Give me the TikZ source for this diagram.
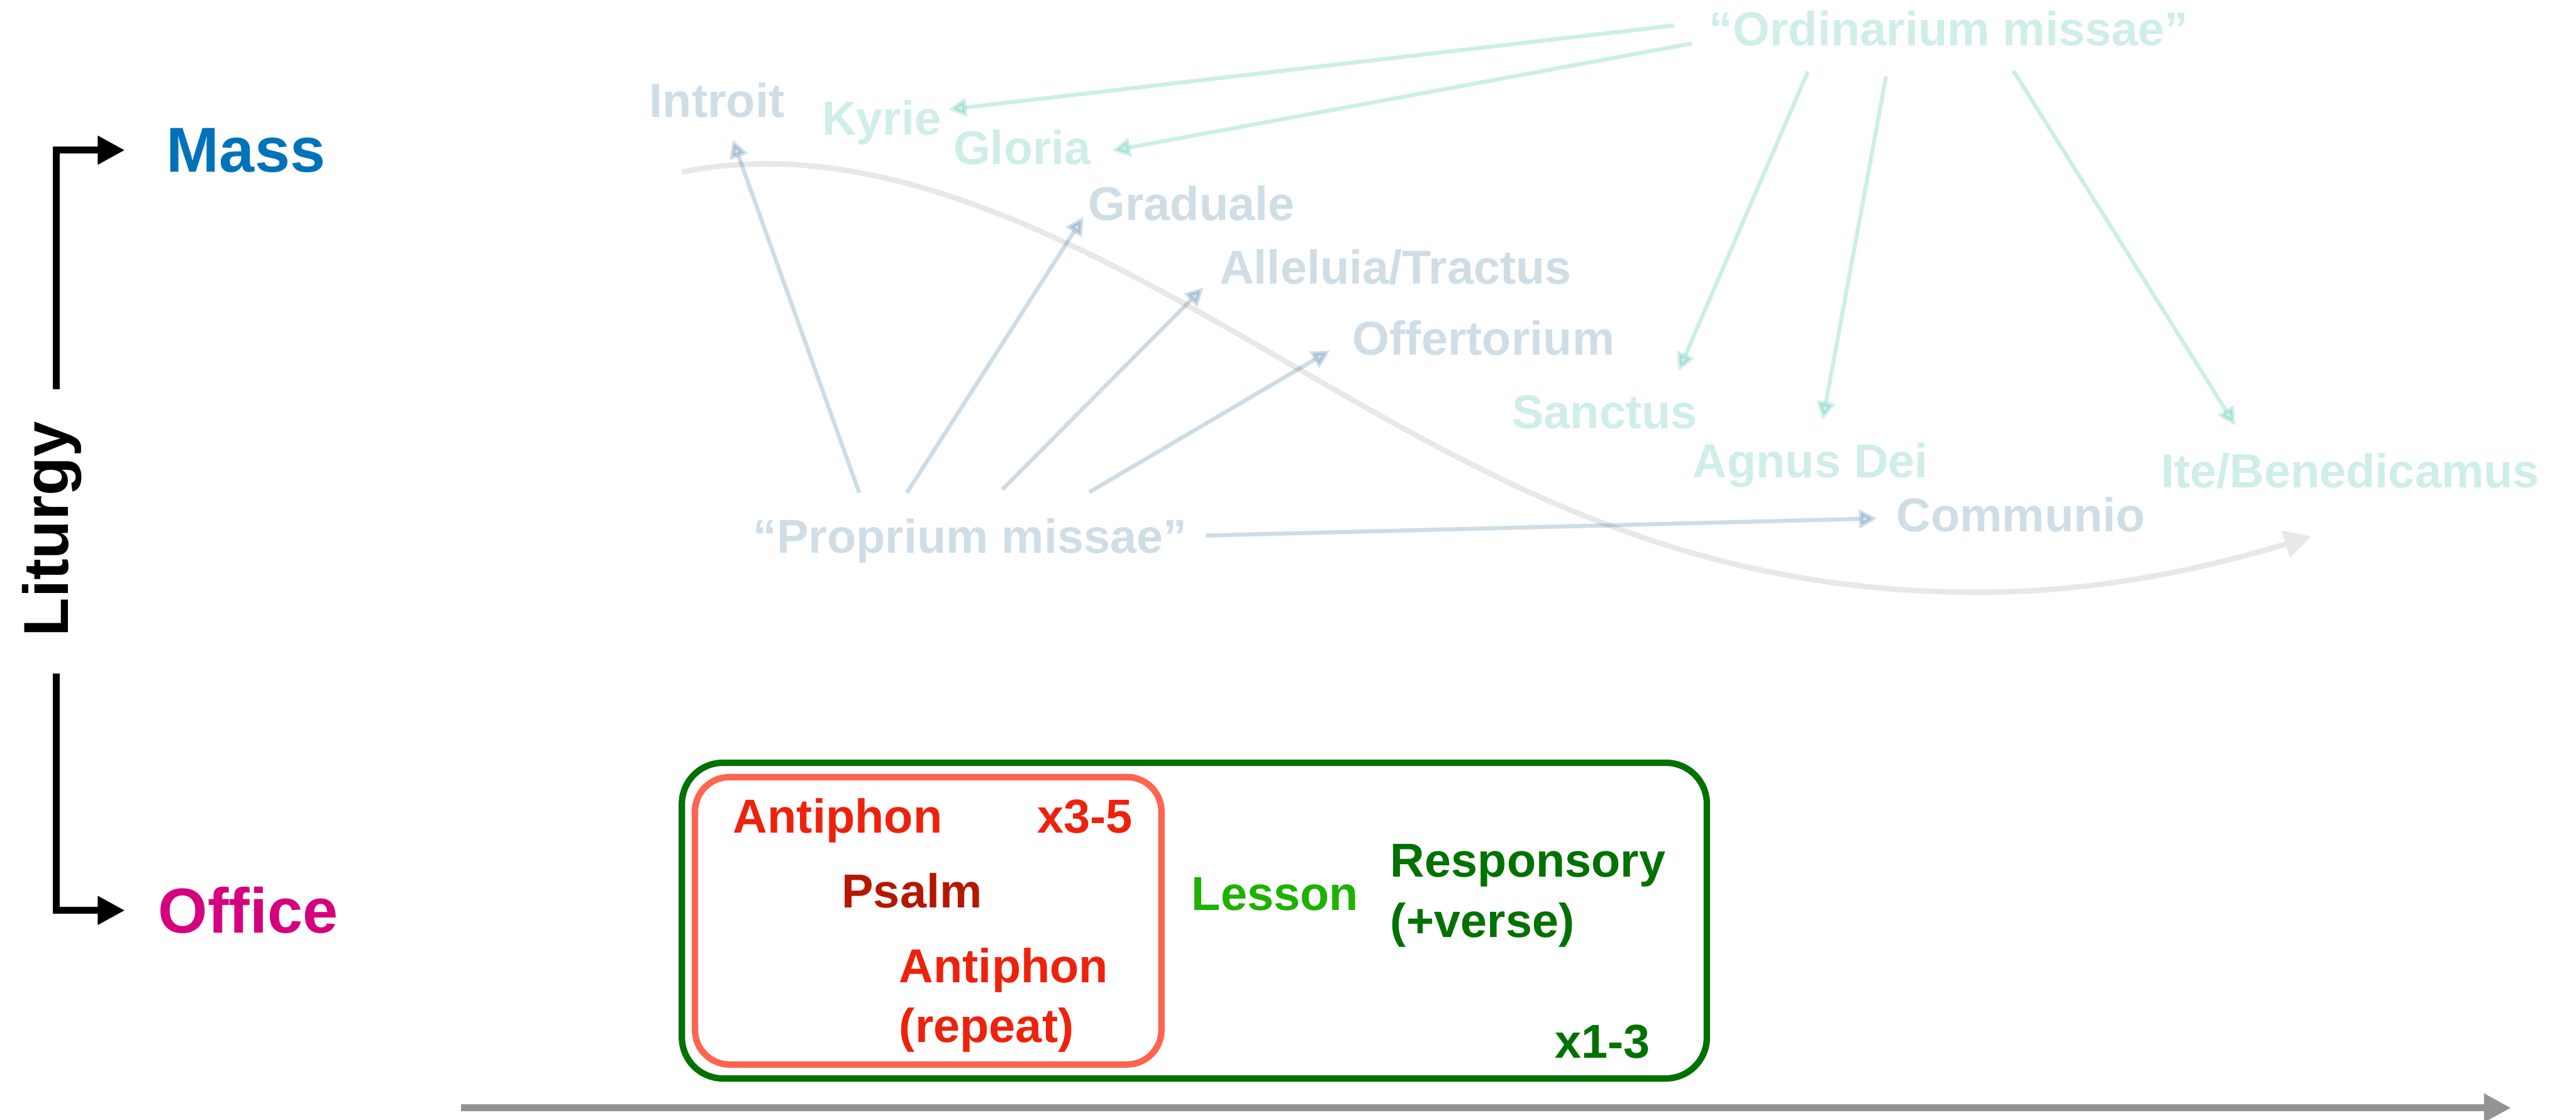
\documentclass[tikz,border=0pt]{standalone}
\usepackage{fontspec}
\setmainfont{Liberation Sans}
\usetikzlibrary{arrows.meta}

\definecolor{massBlue}{HTML}{0072BA}
\definecolor{officeMagenta}{HTML}{D4007E}
\definecolor{propText}{HTML}{CFDDE6}
\definecolor{ordText}{HTML}{CFEEE9}
\definecolor{propLine}{HTML}{0F5582}
\definecolor{ordLine}{HTML}{0FAA91}
\definecolor{flowGrey}{HTML}{939393}
\definecolor{curveGrey}{HTML}{E8E8E8}
\definecolor{antRed}{HTML}{EE220C}
\definecolor{psalmRed}{HTML}{B51700}
\definecolor{boxRed}{HTML}{FF644E}
\definecolor{lessonGreen}{HTML}{1DB100}
\definecolor{darkGreen}{HTML}{017100}

\begin{document}
\begin{tikzpicture}[x=0.02cm, y=-0.02cm,
  lbl/.style={inner sep=0pt, anchor=base west, font=\fontsize{16.5}{20.8}\selectfont\bfseries},
  bigLbl/.style={inner sep=0pt, anchor=base west, font=\fontsize{22}{26}\selectfont\bfseries},
  prop/.style={lbl, text=propText},
  ord/.style={lbl, text=ordText},
  propArrow/.style={draw=propLine, fill=propLine, opacity=0.2, line width=0.05cm,
    -{Triangle[length=0.22cm, width=0.22cm]}},
  ordArrow/.style={draw=ordLine, fill=ordLine, opacity=0.2, line width=0.05cm,
    -{Triangle[length=0.22cm, width=0.22cm]}},
  bracketArrow/.style={line width=0.082cm, -{Triangle[length=0.33cm, width=0.33cm]}},
  timeArrow/.style={draw=flowGrey, line width=0.083cm, -{Triangle[length=0.33cm, width=0.33cm]}},
  curveArrow/.style={draw=curveGrey, line width=0.066cm, -{Triangle[length=0.33cm, width=0.33cm]}},
  roundBox/.style={draw, inner sep=0pt, line width=0.078cm},
]
\useasboundingbox (0,0) rectangle (1568,681.6);

% sweeping course of the Mass (drawn beneath everything else)
\coordinate (cStart) at (415,104.7);
\coordinate (cEnd) at (1407,326.5);
\draw[curveArrow] (cStart)
  .. controls (535,80.7) and (657,147.2) .. (777,216.8)
  .. controls (907,292.2) and (1024.2,360.5) .. (1204.2,360.5)
  .. controls (1274.2,360.5) and (1337,347.5) .. (cEnd);

% time axis
\coordinate (tStart) at (280.6,674.4);
\coordinate (tEnd) at (1528.4,674.4);
\draw[timeArrow] (tStart) -- (tEnd);

% left side: Liturgy splits into Mass and Office
\node[bigLbl, rotate=90] (liturgy) at (41.6,388) {Liturgy};
\node[bigLbl, text=massBlue] (mass) at (101,104.5) {Mass};
\node[bigLbl, text=officeMagenta] (office) at (96,568) {Office};
\coordinate (brTop) at (34.2,237);
\coordinate (brBot) at (34.2,410);
\draw[bracketArrow] (brTop) |- ([shift={(-25,0)}]mass.west);
\draw[bracketArrow] (brBot) |- ([shift={(-20,0)}]office.west);

% chants of the Mass: proper
\node[prop] (introit) at (395,71.5) {Introit};
\node[prop] (graduale) at (662,134) {Graduale};
\node[prop] (alleluia) at (742,173) {Alleluia/Tractus};
\node[prop] (offert) at (823,216) {Offertorium};
\node[prop] (communio) at (1154,323.6) {Communio};
\node[prop] (proprium) at (458,336.7) {“Proprium missae”};

% chants of the Mass: ordinary
\node[ord] (kyrie) at (500,82) {Kyrie};
\node[ord] (gloria) at (580,100) {Gloria};
\node[ord] (sanctus) at (920,261) {Sanctus};
\node[ord] (agnus) at (1030,290.6) {Agnus Dei};
\node[ord] (ite) at (1315,297) {Ite/Benedicamus};
\node[ord] (ordinarium) at (1040,27.7) {“Ordinarium missae”};

% proper connectors
\draw[propArrow] ([shift={(65,-36.7)}]proprium.base west) -- ([shift={(51,13.5)}]introit.base west);
\draw[propArrow] ([shift={(94,-36.7)}]proprium.base west) -- ([shift={(-2.5,-2)}]graduale.base west);
\draw[propArrow] ([shift={(152,-38.7)}]proprium.base west) -- ([shift={(-9.5,2)}]alleluia.base west);
\draw[propArrow] ([shift={(205,-37.1)}]proprium.base west) -- ([shift={(-13.5,-2.6)}]offert.base west);
\draw[propArrow] ([shift={(276,-10.7)}]proprium.base west) -- ([shift={(-11.4,-8)}]communio.base west);

% ordinary connectors
\draw[ordArrow] ([shift={(-21,-12.2)}]ordinarium.base west) -- ([shift={(77.3,-15.4)}]kyrie.base west);
\draw[ordArrow] ([shift={(-10,-1.3)}]ordinarium.base west) -- ([shift={(97,-8.3)}]gloria.base west);
\draw[ordArrow] ([shift={(60.5,15.8)}]ordinarium.base west) -- ([shift={(101.7,-35.1)}]sanctus.base west);
\draw[ordArrow] ([shift={(108,18.9)}]ordinarium.base west) -- ([shift={(79.5,-35.1)}]agnus.base west);
\draw[ordArrow] ([shift={(185.5,15.3)}]ordinarium.base west) -- ([shift={(45.6,-38)}]ite.base west);

% the Office: nocturn and its psalmody
\node[roundBox, draw=darkGreen, rounded corners=0.5cm, minimum width=12.48cm, minimum height=3.844cm] (nocturn) at (727,560.4) {};
\node[roundBox, draw=boxRed, rounded corners=0.42cm, minimum width=5.68cm, minimum height=3.5cm] (psalmody) at (565,560.5) {};

\node[lbl, text=antRed] (ant1) at (446,507) {Antiphon};
\node[lbl, text=antRed] (rep35) at (631,507) {x3-5};
\node[lbl, text=psalmRed] (psalm) at (512,552.6) {Psalm};
\node[lbl, text=antRed] (ant2) at (547,598) {\vtop{\hbox{Antiphon}\hbox{(repeat)}}};
\node[lbl, text=lessonGreen] (lesson) at (725,554) {Lesson};
\node[lbl, text=darkGreen] (resp) at (846,534) {\vtop{\hbox{Responsory}\hbox{(+verse)}}};
\node[lbl, text=darkGreen] (rep13) at (946,644) {x1-3};
\end{tikzpicture}
\end{document}
